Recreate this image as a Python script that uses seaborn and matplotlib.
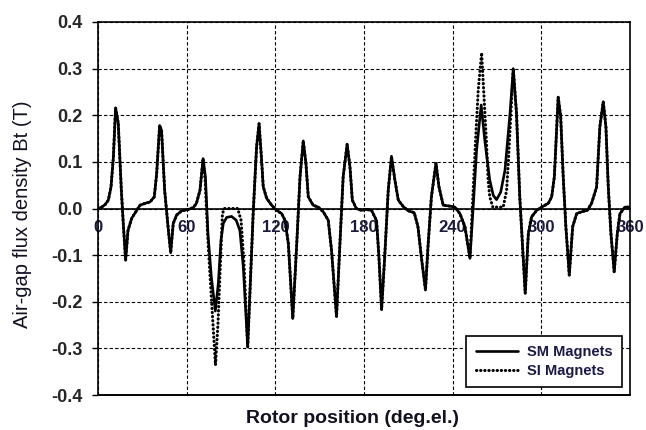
import numpy as np
import pandas as pd
import matplotlib
matplotlib.use("Agg")
import matplotlib.pyplot as plt
import seaborn as sns

# ---------------- data ----------------
sm_deg = [0, 2.5, 4.7, 7.0, 8.8, 10.4, 11.9, 13.7, 15.8, 17.1, 18.7, 20.3, 22.8, 26.2, 28.4,
          31.8, 35.2, 38.1, 39.7, 41.7, 43.0, 45.1, 47.6, 49.2, 50.9, 53.2, 56.6, 61.1, 64.5,
          66.6, 69.0, 71.1, 72.7, 74.4, 76.7, 79.4, 81.4, 83.2, 84.8, 87.1, 90.4, 93.5, 96.0,
          98.3, 101.3, 105.0, 107.3, 109.0, 110.7, 111.8, 114.1, 117.5, 120.9, 124.3, 126.5,
          128.8, 131.8, 134.5, 136.7, 138.9, 140.7, 142.3, 145.6, 149.0, 152.4, 155.8, 158.0,
          161.4, 163.5, 165.9, 168.6, 170.5, 172.1, 174.8, 178.2, 181.6, 185.1, 188.5, 190.1,
          191.9, 194.0, 196.4, 198.6, 200.9, 203.2, 206.6, 210.0, 214.0, 216.5, 218.8, 221.6,
          223.3, 225.6, 228.7, 230.7, 233.6, 238.2, 241.5, 244.9, 248.3, 251.7, 253.9, 256.2,
          259.3, 261.7, 265.1, 267.5, 269.7, 272.5, 275.4, 278.8, 281.0, 283.2, 285.4, 287.3,
          289.1, 291.2, 293.4, 296.8, 300.2, 304.7, 307.0, 308.8, 310.4, 311.4, 313.1, 314.8,
          316.6, 318.9, 321.2, 323.9, 327.3, 331.1, 334.0, 337.4, 339.6, 341.9, 343.7, 345.3,
          347.1, 349.3, 351.4, 353.2, 356.6, 360.0]
sm_b = [0.000, 0.003, 0.008, 0.018, 0.046, 0.110, 0.216, 0.183, 0.039, -0.032, -0.111, -0.047,
        -0.021, -0.004, 0.007, 0.011, 0.014, 0.025, 0.075, 0.178, 0.168, 0.039, -0.046, -0.095,
        -0.032, -0.014, -0.005, -0.002, 0.002, 0.011, 0.039, 0.107, 0.068, -0.053, -0.147,
        -0.220, -0.161, -0.068, -0.032, -0.019, -0.017, -0.025, -0.047, -0.125, -0.297, -0.011,
        0.132, 0.182, 0.104, 0.047, 0.022, 0.007, -0.004, -0.011, -0.025, -0.075, -0.236,
        -0.075, 0.068, 0.145, 0.097, 0.025, 0.007, 0.003, -0.007, -0.025, -0.089, -0.232,
        -0.089, 0.068, 0.138, 0.089, 0.018, 0.000, -0.004, -0.002, -0.004, -0.026, -0.104,
        -0.217, -0.104, 0.039, 0.112, 0.061, 0.018, 0.004, -0.005, -0.009, -0.039, -0.104,
        -0.175, -0.082, 0.025, 0.097, 0.047, 0.007, 0.005, 0.003, -0.011, -0.039, -0.107,
        0.004, 0.125, 0.222, 0.147, 0.061, 0.028, 0.019, 0.035, 0.082, 0.204, 0.300, 0.204,
        0.025, -0.082, -0.182, -0.054, -0.018, -0.004, 0.003, 0.011, 0.025, 0.068, 0.175,
        0.239, 0.197, 0.068, -0.039, -0.143, -0.039, -0.011, -0.007, -0.004, 0.011, 0.046,
        0.175, 0.229, 0.175, 0.046, -0.054, -0.136, -0.054, -0.011, 0.003, 0.003]

# SI magnets differ from SM only in two regions
si_seg1_deg = [72.5, 74.4, 76.7, 79.5, 81.2, 83.0, 84.2, 85.5, 94.5, 96.8, 98.8]
si_seg1_b = [0.060, -0.070, -0.190, -0.336, -0.246, -0.104, -0.011, 0.000, 0.000, -0.025, -0.118]
si_seg2_deg = [253.9, 255.5, 257.3, 259.6, 261.0, 262.9, 264.0, 265.1, 267.2, 274.2, 276.5,
               277.6, 278.8, 280.0]
si_seg2_b = [0.039, 0.147, 0.254, 0.334, 0.250, 0.140, 0.061, 0.025, 0.003, 0.003, 0.039,
             0.096, 0.168, 0.240]

x_ticks = [0, 60, 120, 180, 240, 300, 360]
x_tick_labels = ["0", "60", "120", "180", "240", "300", "360"]
y_ticks = [-0.4, -0.3, -0.2, -0.1, 0.0, 0.1, 0.2, 0.3, 0.4]
y_tick_labels = ["-0.4", "-0.3", "-0.2", "-0.1", "0.0", "0.1", "0.2", "0.3", "0.4"]

# ---------------- build frames ----------------
sm = pd.DataFrame({"deg": sm_deg, "B": sm_b})
keep = ~(((sm["deg"] > 72.0) & (sm["deg"] < 101.0)) | ((sm["deg"] > 252.0) & (sm["deg"] < 280.5)))
si = pd.concat([sm[keep],
                pd.DataFrame({"deg": si_seg1_deg, "B": si_seg1_b}),
                pd.DataFrame({"deg": si_seg2_deg, "B": si_seg2_b})]).sort_values("deg")

# ---------------- style ----------------
sns.set_style("white")
plt.rcParams["font.family"] = ["Liberation Sans", "DejaVu Sans"]

fig = plt.figure(figsize=(6.46, 4.30), dpi=100)
ax = fig.add_axes([98 / 646, 35 / 430, 532 / 646, 373 / 430])

sns.lineplot(data=si, x="deg", y="B", ax=ax, color="black", linewidth=2.2,
             linestyle=(0, (0.1, 1.25)), dash_capstyle="round", sort=False,
             estimator=None, label="SI Magnets", zorder=3)
sns.lineplot(data=sm, x="deg", y="B", ax=ax, color="black", linewidth=1.9,
             sort=False, estimator=None, label="SM Magnets", zorder=4)

ax.set_xlim(0, 360)
ax.set_ylim(-0.4, 0.4)
ax.set_xticks(x_ticks)
ax.set_xticklabels(x_tick_labels)
ax.set_yticks(y_ticks)
ax.set_yticklabels(y_tick_labels)

ax.grid(True, color="black", linestyle=(0, (3, 2)), linewidth=0.8)
ax.set_axisbelow(True)

for s in ["left", "right", "top"]:
    ax.spines[s].set_color("black")
    ax.spines[s].set_linewidth(1.2)
ax.spines["bottom"].set_position(("data", 0))
ax.spines["bottom"].set_color("black")
ax.spines["bottom"].set_linewidth(1.2)
ax.spines["bottom"].set_zorder(2.5)
ax.axhline(-0.4, color="black", linewidth=1.4, clip_on=False, zorder=5)

ax.tick_params(axis="x", length=0, pad=8, labelsize=12, labelcolor="#1a1a3c")
ax.tick_params(axis="y", direction="out", length=4, width=1, color="black",
               pad=7, labelsize=13, left=True)
for t in ax.get_xticklabels() + ax.get_yticklabels():
    t.set_fontweight("bold")

ax.set_xlabel("Rotor position (deg.el.)", fontsize=14, fontweight="bold", color="#111122")
ax.xaxis.set_label_coords((352 - 98) / 532, -0.039)
ax.set_ylabel("Air-gap flux density Bt (T)", fontsize=14.5, color="#111122")
ax.yaxis.label.set_rotation_mode("default")
ax.yaxis.label.set_va("center")
ax.yaxis.set_label_coords((23 - 98) / 532, (395 - 214) / 373)

handles, labels = ax.get_legend_handles_labels()
order = [labels.index("SM Magnets"), labels.index("SI Magnets")]
leg = ax.legend([handles[i] for i in order], [labels[i] for i in order],
                loc="lower right", bbox_to_anchor=(0.985, 0.021), borderaxespad=0,
                frameon=True, fancybox=False, edgecolor="black", framealpha=1,
                prop={"weight": "bold", "size": 10.5}, handlelength=2.9,
                handletextpad=0.6, labelspacing=0.3, borderpad=0.65)
leg.get_frame().set_linewidth(1.2)
for t in leg.get_texts():
    t.set_color("#1a1a48")
leg.set_zorder(10)

fig.savefig("out.png", dpi=100)
